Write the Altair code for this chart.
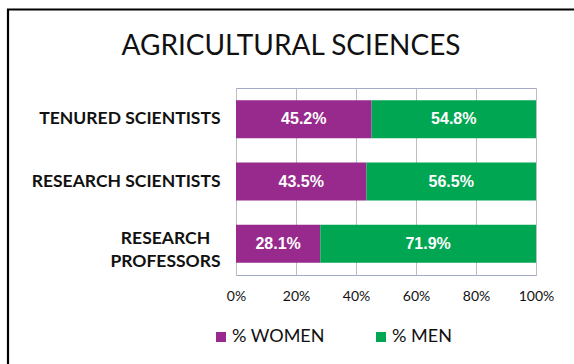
import altair as alt
import pandas as pd

# Data
categories = ["TENURED SCIENTISTS", "RESEARCH SCIENTISTS", "RESEARCH PROFESSORS"]
women = [45.2, 43.5, 28.1]
men = [54.8, 56.5, 71.9]
series = ["% WOMEN", "% MEN"]
colors = ["#982A8D", "#00A651"]
ticks = [0, 20, 40, 60, 80, 100]

rows = []
for cat, w, m in zip(categories, women, men):
    rows.append({"group": cat, "series": series[0], "order": 0, "value": w})
    rows.append({"group": cat, "series": series[1], "order": 1, "value": m})
df = pd.DataFrame(rows)

label_font = "Lato"
two_line = "datum.value == 'RESEARCH PROFESSORS'"

y_enc = alt.Y(
    "group:N",
    sort=categories,
    title=None,
    scale=alt.Scale(paddingInner=0.39, paddingOuter=0.195),
    axis=alt.Axis(
        domain=False,
        ticks=False,
        labelPadding={"condition": {"test": two_line, "value": 71}, "value": 16},
        labelAlign={"condition": {"test": two_line, "value": "center"}, "value": "right"},
        labelOffset={"condition": {"test": two_line, "value": -5}, "value": 0},
        labelFont=label_font,
        labelFontSize=17.5,
        labelFontWeight="bold",
        labelColor="#111111",
        labelLimit=0,
        labelLineHeight=23,
        labelExpr="datum.label == 'RESEARCH PROFESSORS' ? ['RESEARCH', 'PROFESSORS'] : datum.label",
    ),
)

base = alt.Chart(df).transform_stack(
    stack="value", groupby=["group"], as_=["x0", "x1"], sort=[alt.SortField("order")]
).transform_calculate(mid="(datum.x0 + datum.x1) / 2", lab="format(datum.value, '.1f') + '%'")

bars = base.mark_bar().encode(
    x=alt.X(
        "x0:Q",
        title=None,
        scale=alt.Scale(domain=[0, 100], nice=False),
        axis=alt.Axis(
            values=ticks,
            labelExpr="datum.value + '%'",
            labelFlush=False,
            grid=True,
            gridColor="#BDBDBD",
            ticks=False,
            domain=False,
            labelPadding=14,
            labelFont=label_font,
            labelFontSize=14,
            labelColor="#111111",
        ),
    ),
    x2="x1:Q",
    y=y_enc,
    color=alt.Color(
        "series:N",
        scale=alt.Scale(domain=series, range=colors),
        legend=alt.Legend(
            title=None,
            orient="none",
            direction="horizontal",
            legendX=-24,
            legendY=240,
            symbolType="square",
            symbolSize=100,
            symbolStrokeWidth=0,
            labelFont=label_font,
            labelFontSize=18,
            labelColor="#111111",
            labelOffset=2,
            columnPadding=47,
        ),
    ),
)

texts = base.mark_text(
    color="white", font="Liberation Sans", fontWeight="bold", fontSize=16
).encode(x="mid:Q", y=alt.Y("group:N", sort=categories), text="lab:N")

# Outer frame: left and top edges
frame_df = pd.DataFrame({"k": [0]})
frame_left = alt.Chart(frame_df).mark_rule(color="black", strokeWidth=2.2).encode(
    x=alt.value(-228), y=alt.value(-79), y2=alt.value(290)
)
frame_top = alt.Chart(frame_df).mark_rule(color="black", strokeWidth=2.2).encode(
    x=alt.value(-229), x2=alt.value(340), y=alt.value(-78.5)
)

chart = (
    alt.layer(bars, texts, frame_left, frame_top)
    .properties(
        width=300,
        height=187,
        autosize=alt.AutoSizeParams(type="none"),
        padding={"left": 236, "top": 88, "right": 38, "bottom": 89},
        title=alt.TitleParams(
            "AGRICULTURAL SCIENCES",
            font=label_font,
            fontSize=28,
            fontWeight="normal",
            color="#111111",
            anchor="middle",
            dx=-95,
            dy=75,
            baseline="alphabetic",
            offset=0,
        ),
    )
    .configure_view(stroke="#A3A9C6", strokeWidth=1)
)

chart.save("out.html", embed_options={"renderer": "svg", "actions": False})
